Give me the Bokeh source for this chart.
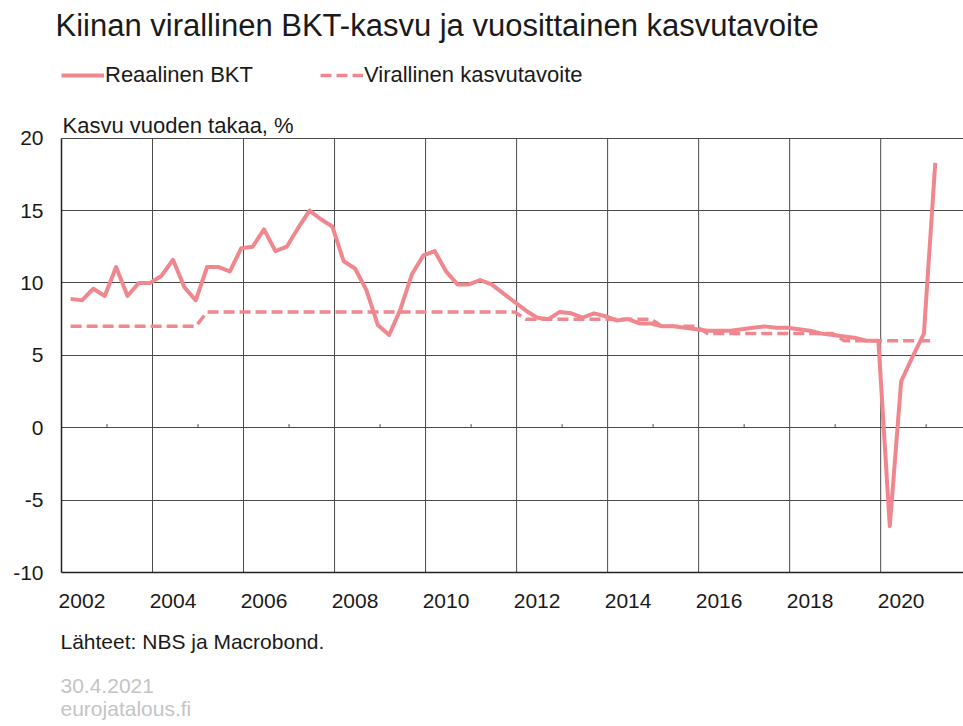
from bokeh.plotting import figure
from bokeh.models import FixedTicker, Legend, LegendItem, ColumnDataSource, Title, Label
from bokeh.embed import file_html
from bokeh.resources import INLINE

# ---------------- data ----------------
title_text = "Kiinan virallinen BKT-kasvu ja vuosittainen kasvutavoite"
y_axis_title = "Kasvu vuoden takaa, %"
source_text = "Lähteet: NBS ja Macrobond."
date_text = "30.4.2021"
site_text = "eurojatalous.fi"

series_gdp_name = "Reaalinen BKT"
series_target_name = "Virallinen kasvutavoite"

first_year = 2002
# real GDP growth, % y/y, quarterly from 2002Q1 to 2021Q1
gdp = [
    8.9, 8.8, 9.6, 9.1,      # 2002
    11.1, 9.1, 10.0, 10.0,   # 2003
    10.5, 11.6, 9.7, 8.8,    # 2004
    11.1, 11.1, 10.8, 12.4,  # 2005
    12.5, 13.7, 12.2, 12.5,  # 2006
    13.8, 15.0, 14.4, 13.9,  # 2007
    11.5, 11.0, 9.5, 7.1,    # 2008
    6.4, 8.2, 10.6, 11.9,    # 2009
    12.2, 10.8, 9.9, 9.9,    # 2010
    10.2, 9.9, 9.3, 8.7,     # 2011
    8.1, 7.6, 7.5, 8.0,      # 2012
    7.9, 7.6, 7.9, 7.7,      # 2013
    7.4, 7.5, 7.2, 7.2,      # 2014
    7.0, 7.0, 6.9, 6.8,      # 2015
    6.7, 6.7, 6.7, 6.8,      # 2016
    6.9, 7.0, 6.9, 6.9,      # 2017
    6.8, 6.7, 6.5, 6.4,      # 2018
    6.3, 6.2, 6.0, 6.0,      # 2019
    -6.8, 3.2, 4.9, 6.5,     # 2020
    18.3,                    # 2021
]
# official annual growth target, 2002 ... 2021
target_years = list(range(2002, 2022))
target_by_year = [7.0, 7.0, 7.0, 8.0, 8.0, 8.0, 8.0, 8.0, 8.0, 8.0,
                  7.5, 7.5, 7.5, 7.0, 6.5, 6.5, 6.5, 6.0, 6.0, 6.0]

x_tick_labels = ["2002", "2004", "2006", "2008", "2010", "2012", "2014",
                 "2016", "2018", "2020"]
y_ticks = [-10, -5, 0, 5, 10, 15, 20]

# ---------------- derived ----------------
n = len(gdp)
quarter_year = [first_year + i // 4 for i in range(n)]
quarter_num = [i % 4 + 1 for i in range(n)]
x = [yy + (q - 1) / 4 + 0.2 for yy, q in zip(quarter_year, quarter_num)]
target_map = dict(zip(target_years, target_by_year))
target = [target_map[yy] for yy in quarter_year]

src = ColumnDataSource(dict(x=x, gdp=gdp, target=target))

FONT = "Liberation Sans"
PINK = "#f0878e"
GRID = "#4a4a4a"
TEXT = "#1a1a1a"

# layout (pixels): the frame reaches up to FRAME_TOP so that the legend and
# the axis caption can live inside it; the value area itself is y_lo..y_hi
W, H = 963, 726
FRAME_TOP = 45
VALUE_TOP = 136
VALUE_BOTTOM = 572
y_lo, y_hi = min(y_ticks), max(y_ticks)
px_per_unit = (VALUE_BOTTOM - VALUE_TOP) / (y_hi - y_lo)
y_frame_top = y_hi + (VALUE_TOP - FRAME_TOP) / px_per_unit

p = figure(width=W, height=H, output_backend="svg", toolbar_location=None,
           title=None,
           x_range=(2002, 2021.82), y_range=(y_lo, y_frame_top),
           min_border_left=61, min_border_right=0, min_border_top=FRAME_TOP,
           min_border_bottom=H - VALUE_BOTTOM)
p.outline_line_color = None
p.background_fill_color = "white"
p.border_fill_color = "white"

# horizontal grid
p.ygrid.ticker = FixedTicker(ticks=y_ticks)
p.ygrid.grid_line_color = GRID
p.ygrid.grid_line_width = 1
# vertical grid only across the value area
p.xgrid.visible = False
grid_years = [int(t) for t in x_tick_labels]
p.segment(x0=grid_years, x1=grid_years, y0=[y_lo] * len(grid_years),
          y1=[y_hi] * len(grid_years), line_color=GRID, line_width=1)

# x axis: labels centred in the labelled year
label_pos = [int(t) + 0.45 for t in x_tick_labels]
p.xaxis.ticker = FixedTicker(ticks=label_pos)
p.xaxis.major_label_overrides = {pos: lab for pos, lab in zip(label_pos, x_tick_labels)}
p.xaxis.major_label_standoff = 21
p.xaxis.axis_line_width = 1.5

p.yaxis.ticker = FixedTicker(ticks=y_ticks)
p.yaxis.major_label_overrides = {t: str(t) for t in y_ticks}
p.yaxis.major_label_standoff = 18
p.yaxis.axis_line_width = 1.5
p.yaxis.bounds = (y_lo, y_hi)

for ax in (p.xaxis, p.yaxis):
    ax.major_tick_out = 0
    ax.major_tick_in = 0
    ax.minor_tick_out = 0
    ax.minor_tick_in = 0
    ax.axis_line_color = "#222222"
    ax.major_label_text_font = FONT
    ax.major_label_text_font_size = "21px"
    ax.major_label_text_color = TEXT

# small ticks on the zero line at the odd years
odd_years = [yy + 1 for yy in grid_years]
p.segment(x0=odd_years, x1=odd_years, y0=[0] * len(odd_years),
          y1=[0.25] * len(odd_years), line_color=GRID, line_width=1)

r_target = p.line("x", "target", source=src, line_color=PINK, line_width=3.5,
                  line_dash="11 5")
r_gdp = p.line("x", "gdp", source=src, line_color=PINK, line_width=4,
               line_join="round")

legend = Legend(items=[LegendItem(label=series_gdp_name, renderers=[r_gdp]),
                       LegendItem(label=series_target_name, renderers=[r_target])],
                orientation="horizontal", location=(0, 484),
                glyph_width=43, glyph_height=20, label_standoff=1, spacing=67,
                padding=1, margin=0, border_line_color=None,
                background_fill_alpha=0, label_text_font=FONT,
                label_text_font_size="22px", label_text_color=TEXT)
p.add_layout(legend, "center")

p.add_layout(Label(x=1, y=VALUE_BOTTOM - 125, x_units="screen", y_units="screen",
                   text=y_axis_title, text_font=FONT, text_font_size="22px",
                   text_color=TEXT, text_baseline="alphabetic"))


def make_title(text, size, standoff, offset=0, color=TEXT):
    return Title(text=text, align="left", offset=offset, standoff=standoff,
                 text_font=FONT, text_font_size=size, text_font_style="normal",
                 text_color=color)


p.add_layout(make_title(title_text, "31px", 10, offset=-6), "above")

# below panels: after the x axis, going downward
p.add_layout(make_title(source_text, "21px", 34, offset=-1), "below")
p.add_layout(make_title(date_text, "21px", 15, offset=-1, color="#c4c4c4"), "below")
p.add_layout(make_title(site_text, "21px", -12, offset=-1, color="#c4c4c4"), "below")

open("out.html", "w").write(file_html(p, INLINE))
